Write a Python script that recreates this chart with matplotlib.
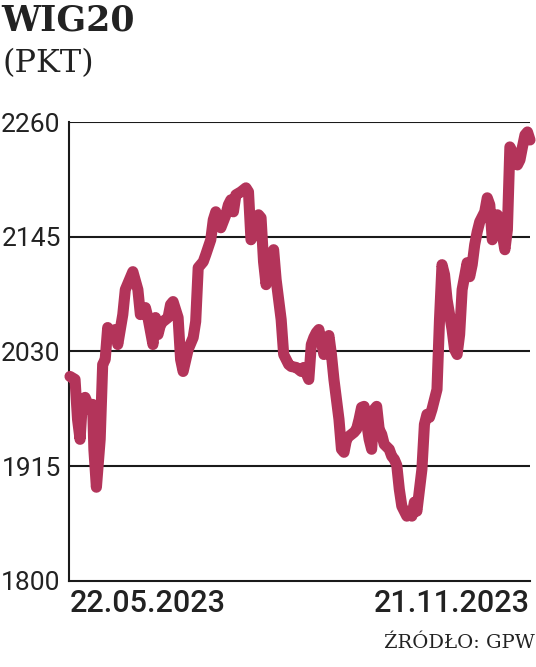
import matplotlib
matplotlib.use("Agg")
import matplotlib.pyplot as plt

# days since 22.05.2023 and WIG20 close (pkt)
days = [0, 2, 3, 4, 5, 6, 8, 9, 9.5, 10.5, 12, 13, 14, 15, 16, 18, 19, 20, 21, 22,
        24, 25, 27, 28, 29, 30, 31, 33, 34, 35, 36, 37, 39, 40, 41, 43, 44, 45, 47, 49,
        50, 51, 53, 54, 56, 57, 58, 59, 60, 62, 63, 64, 65, 66, 68, 69, 70, 71, 72, 74,
        75, 76, 77, 78, 80, 81, 82, 84, 85, 87, 88, 90, 92, 93, 95, 96, 97, 98, 99, 101,
        102, 103, 104, 105, 107, 108, 109, 110, 111, 113, 114, 115, 116, 117, 119, 120, 121, 122, 123, 124,
        125, 127, 128, 129, 130, 131, 132, 134, 135, 136, 137, 138, 140, 141, 142, 143, 144, 146, 147, 148,
        149, 150, 152, 153, 154, 155, 156, 158, 159, 160, 161, 162, 163, 165, 166, 167, 168, 170, 171, 172,
        173, 174, 175, 176, 178, 179, 180, 181, 182, 183]
values = [2005, 2002, 1962, 1942, 1982, 1984, 1972, 1977, 1932, 1894, 1942, 2017, 2022, 2054, 2044, 2052, 2037, 2052, 2067, 2092,
          2104, 2110, 2092, 2067, 2072, 2074, 2064, 2037, 2064, 2047, 2057, 2060, 2064, 2077, 2080, 2064, 2022, 2010, 2032, 2044,
          2060, 2114, 2120, 2127, 2142, 2162, 2170, 2160, 2154, 2167, 2177, 2182, 2170, 2187, 2190, 2192, 2194, 2190, 2142, 2152,
          2167, 2164, 2120, 2097, 2127, 2132, 2102, 2062, 2027, 2017, 2015, 2014, 2010, 2014, 2002, 2037, 2044, 2049, 2052, 2027,
          2037, 2046, 2027, 2002, 1962, 1932, 1929, 1942, 1945, 1949, 1952, 1962, 1974, 1975, 1942, 1932, 1972, 1975, 1952, 1947,
          1937, 1932, 1925, 1922, 1916, 1892, 1875, 1865, 1869, 1865, 1879, 1870, 1912, 1957, 1967, 1964, 1972, 1992, 2062, 2117,
          2107, 2082, 2052, 2032, 2027, 2047, 2092, 2119, 2105, 2117, 2137, 2150, 2160, 2170, 2184, 2177, 2142, 2167, 2160, 2147,
          2132, 2152, 2235, 2230, 2217, 2222, 2235, 2247, 2250, 2242]

yticks = [1800, 1915, 2030, 2145, 2260]
xtick_pos = [0, 183]
xtick_labels = ["22.05.2023", "21.11.2023"]

fig = plt.figure(figsize=(5.36, 6.67), dpi=100)
ax = fig.add_axes([69 / 536, 86 / 667, 461 / 536, 459 / 667])

for y in yticks[1:]:
    ax.axhline(y, color="#1a1a1a", lw=1.5, zorder=1)

ax.plot(days, values, color="#b3345a", lw=8, solid_joinstyle="round",
        solid_capstyle="round", clip_on=False, zorder=3)

ax.set_xlim(-0.4, 183)
ax.set_ylim(1800, 2260)
for s in ["top", "right"]:
    ax.spines[s].set_visible(False)
for s in ["left", "bottom"]:
    ax.spines[s].set_linewidth(1.5)
    ax.spines[s].set_color("#1a1a1a")

ax.set_yticks(yticks)
ax.set_yticklabels([str(v) for v in yticks], fontsize=19, family="Roboto",
                   fontweight="normal", color="#222222")
ax.tick_params(axis="y", length=0, pad=6)

ax.set_xticks(xtick_pos)
labs = ax.set_xticklabels(xtick_labels, fontsize=22, fontweight="medium",
                          family="Roboto", color="#222222")
labs[0].set_ha("left")
labs[1].set_ha("right")
ax.tick_params(axis="x", length=0, pad=6)

fig.text(0.002, 0.995, "WIG20", fontsize=25, fontweight="bold", family="DejaVu Serif",
         va="top", ha="left", color="#222222")
fig.text(0.004, 0.928, "(PKT)", fontsize=23, family="DejaVu Serif",
         va="top", ha="left", color="#222222")
fig.text(0.997, 0.022, "ŹRÓDŁO: GPW", fontsize=14, family="DejaVu Serif",
         va="bottom", ha="right", color="#222222")

fig.savefig("out.png", dpi=100)
